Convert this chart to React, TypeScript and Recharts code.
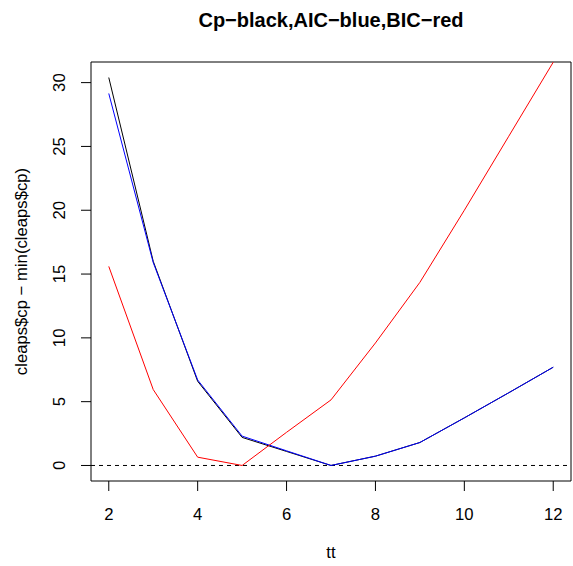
import { CartesianGrid, Line, LineChart, ReferenceArea, ReferenceLine, XAxis, YAxis } from "recharts";

const tt = [2, 3, 4, 5, 6, 7, 8, 9, 10, 11, 12];
const cp = [30.4, 16.0, 6.6, 2.2, 1.1, 0, 0.73, 1.8, 3.73, 5.7, 7.7];
const aic = [29.15, 15.9, 6.7, 2.3, 1.15, 0, 0.73, 1.8, 3.73, 5.7, 7.7];
const bic = [15.6, 5.95, 0.65, 0, 2.6, 5.14, 9.6, 14.35, 20.0, 25.8, 31.6];
const xTicks = [2, 4, 6, 8, 10, 12];
const yTicks = [0, 5, 10, 15, 20, 25, 30];

const data = tt.map((t, i) => ({ tt: t, cp: cp[i], aic: aic[i], bic: bic[i] }));

const FONT = "'Liberation Sans', Arial, sans-serif";
const X_DOMAIN = [1.6, 12.4];
const Y_DOMAIN = [-1.216, 31.616];

function XTick({ x, y, payload }: any) {
  return (
    <text x={x} y={y + 27} textAnchor="middle" fontSize={16.7} fontFamily={FONT} fill="#000">
      {payload.value}
    </text>
  );
}

function YTick({ x, y, payload }: any) {
  return (
    <text
      x={x - 14}
      y={y}
      transform={`rotate(-90, ${x - 14}, ${y})`}
      textAnchor="middle"
      fontSize={16.7}
      fontFamily={FONT}
      fill="#000"
    >
      {payload.value}
    </text>
  );
}

export default function App() {
  return (
    <div style={{ position: "absolute", left: 0, top: 0, width: 573, height: 566, background: "#fff" }}>
      <svg width={573} height={566} style={{ position: "absolute", left: 0, top: 0, pointerEvents: "none" }}>
        <text x={331} y={27} textAnchor="middle" fontSize={20} fontWeight="bold" fontFamily={FONT}>
          Cp−black,AIC−blue,BIC−red
        </text>
        <text x={331} y={558} textAnchor="middle" fontSize={16.7} fontFamily={FONT}>
          tt
        </text>
        <text x={27} y={271.5} transform="rotate(-90, 27, 271.5)" textAnchor="middle" fontSize={16.7} fontFamily={FONT}>
          cleaps$cp − min(cleaps$cp)
        </text>
      </svg>
      <LineChart width={573} height={566} data={data} margin={{ top: 62, right: 2, bottom: 0, left: 0 }}>
        <CartesianGrid stroke="none" />
        <XAxis
          dataKey="tt"
          type="number"
          domain={X_DOMAIN}
          ticks={xTicks}
          allowDataOverflow
          axisLine={false}
          tickLine={{ stroke: "#000" }}
          tickSize={10}
          height={85}
          tick={<XTick />}
          interval={0}
        />
        <YAxis
          type="number"
          domain={Y_DOMAIN}
          ticks={yTicks}
          allowDataOverflow
          axisLine={false}
          tickLine={{ stroke: "#000" }}
          tickSize={10}
          width={91}
          tick={<YTick />}
          interval={0}
        />
        <ReferenceArea x1={X_DOMAIN[0]} x2={X_DOMAIN[1]} y1={Y_DOMAIN[0]} y2={Y_DOMAIN[1]} fill="none" stroke="#000" strokeWidth={1} />
        <ReferenceLine y={0} stroke="#000" strokeDasharray="4 4" />
        <Line dataKey="cp" stroke="#000" strokeWidth={1} dot={false} isAnimationActive={false} />
        <Line dataKey="aic" stroke="#0000ff" strokeWidth={1} dot={false} isAnimationActive={false} />
        <Line dataKey="bic" stroke="#ff0000" strokeWidth={1} dot={false} isAnimationActive={false} />
      </LineChart>
    </div>
  );
}
